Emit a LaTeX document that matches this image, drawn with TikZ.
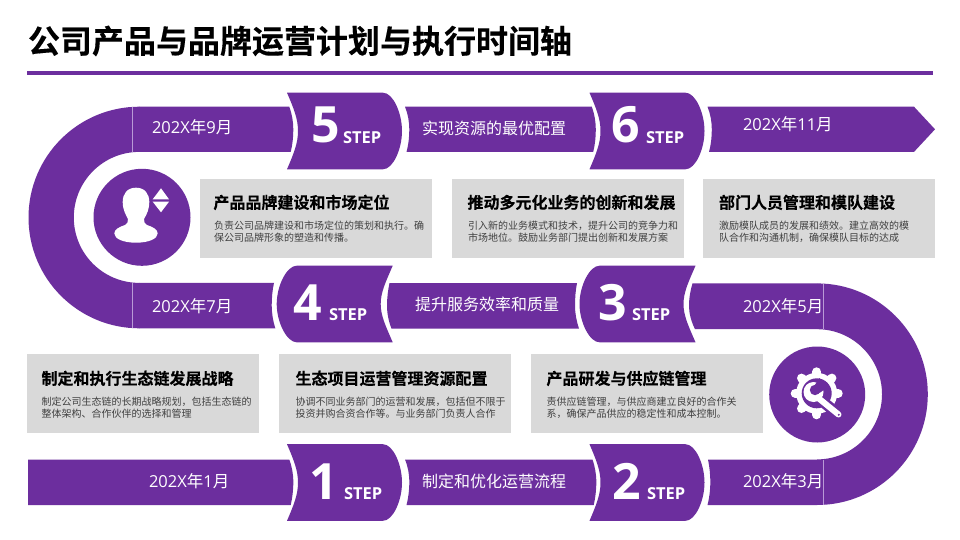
\documentclass[tikz,border=0pt]{standalone}
\usepackage{fontspec}
\setmainfont{Open Sans}
\newfontfamily\cjk{Noto Sans CJK SC}[BoldFont={Noto Sans CJK SC Bold},BoldFeatures={FakeBold=0.25}]
\newfontfamily\lat{Open Sans}
\definecolor{brand}{HTML}{6C2E9E}
\definecolor{panel}{HTML}{D9D9D9}
\definecolor{seam}{HTML}{B99AD6}
\definecolor{bodytext}{HTML}{404040}
\newcommand{\stepF}{(0,-38.3) -- (96,-38.3) .. controls (106,-38.3) and (115,-18) .. (115,0)
  .. controls (115,18) and (106,38.3) .. (96,38.3) -- (0,38.3)
  .. controls (7,22) and (11,12) .. (11,0) .. controls (11,-12) and (7,-22) .. (0,-38.3) -- cycle}
\newcommand{\stepB}{(0,-38.3) -- (-96,-38.3) .. controls (-106,-38.3) and (-116,-18) .. (-116,0)
  .. controls (-116,18) and (-106,38.3) .. (-96,38.3) -- (0,38.3)
  .. controls (-7,22) and (-12,12) .. (-12,0) .. controls (-12,-12) and (-7,-22) .. (0,-38.3) -- cycle}
\tikzset{
  x=1pt,y=-1pt,
  band/.style={fill=brand,draw=none},
  seamline/.style={draw=seam,line width=0.7pt},
  txt/.style={anchor=base west,inner sep=0pt,outer sep=0pt},
  bandlabel/.style={txt,text=white,font=\fontsize{16.5}{16.5}\selectfont\lat},
  bandcjk/.style={txt,text=white,font=\fontsize{16}{16}\selectfont\cjk},
  bignum/.style={txt,text=white,font=\fontsize{50}{50}\selectfont\lat\bfseries},
  steptag/.style={txt,text=white,font=\fontsize{16.5}{16.5}\selectfont\lat\bfseries},
  head/.style={txt,text=black,font=\fontsize{16}{16}\selectfont\cjk\bfseries},
  bodyline/.style={txt,text=bodytext,font=\fontsize{10}{10}\selectfont\cjk},
  panelbox/.style={fill=panel,draw=none},
}
\begin{document}
\begin{tikzpicture}
\useasboundingbox (0,0) rectangle (960,540);
\fill[white] (0,0) rectangle (960,540);

% title
\node[txt,text=black,font=\fontsize{32}{32}\selectfont\cjk\bfseries] (title) at (28,53) {公司产品与品牌运营计划与执行时间轴};
\fill[brand] (27,71) rectangle (933,75);

% left ring
\fill[band] (139.3,106.7) .. controls (78.1,106.7) and (28.5,156.3) .. (28.5,217.5)
  .. controls (28.5,278.7) and (78.1,328.3) .. (139.3,328.3)
  -- (139.3,282.9) .. controls (103.1,282.9) and (73.8,253.7) .. (73.8,217.5)
  .. controls (73.8,181.3) and (103.1,151.9) .. (139.3,151.9) -- cycle;
% right ring
\fill[band] (817,283.4) .. controls (878.2,283.4) and (927.8,333) .. (927.8,394.2)
  .. controls (927.8,455.4) and (878.2,505) .. (817,505)
  -- (817,459.4) .. controls (852.9,459.4) and (882,430.1) .. (882,394.2)
  .. controls (882,358.3) and (852.9,329.2) .. (817,329.2) -- cycle;

% row 1 bands
\fill[band] (139,106.7) -- (289.3,106.7) .. controls (292,114) and (293.3,122) .. (293.3,129.5)
  .. controls (293.3,137) and (292.5,145) .. (290.7,151.9) -- (139,151.9) -- cycle;
\fill[band] (405,106.7) -- (591.8,106.7) .. controls (594.5,114) and (595.8,122) .. (595.8,129.5)
  .. controls (595.8,137) and (595,145) .. (593.2,151.9) -- (406.5,151.9)
  .. controls (408.5,145) and (409.3,137) .. (409.3,129.5) .. controls (409.3,122) and (408,114) .. (405,106.7) -- cycle;
\fill[band] (707.5,106.7) -- (914,106.7) -- (935,129.3) -- (914,151.9) -- (709,151.9)
  .. controls (711,145) and (711.8,137) .. (711.8,129.5) .. controls (711.8,122) and (710.5,114) .. (707.5,106.7) -- cycle;
% row 2 bands
\fill[band] (139,282.9) -- (274,282.9) .. controls (272.4,290) and (271.7,298) .. (271.7,305.5)
  .. controls (271.7,313) and (273,321) .. (275.3,328.3) -- (139,328.3) -- cycle;
\fill[band] (389.5,283) -- (577,283) .. controls (575.6,290) and (575,298) .. (575,305.7)
  .. controls (575,313.5) and (576.5,321) .. (579,328.6) -- (391.5,328.6)
  .. controls (388.5,321) and (387,313) .. (387,305.7) .. controls (387,298) and (388,290) .. (389.5,283) -- cycle;
\fill[band] (692.5,283.4) -- (817,283.4) -- (817,329.2) -- (695,329.2)
  .. controls (691,321) and (689,313) .. (689,306) .. controls (689,298) and (690.5,290) .. (692.5,283.4) -- cycle;
% row 3 bands
\fill[band] (28,459.5) -- (289.3,459.5) .. controls (292,467) and (293.3,474) .. (293.3,482)
  .. controls (293.3,490) and (292.5,497) .. (290.7,505) -- (28,505) -- cycle;
\fill[band] (405,459.5) -- (592.5,459.5) .. controls (595,467) and (596.3,474) .. (596.3,482)
  .. controls (596.3,490) and (595.5,497) .. (593.7,505) -- (406.5,505)
  .. controls (408.5,497) and (409.3,490) .. (409.3,482) .. controls (409.3,474) and (408,467) .. (405,459.5) -- cycle;
\fill[band] (708,459.5) -- (817,459.5) -- (817,505) -- (707.5,505)
  .. controls (709.5,497) and (710.3,490) .. (710.3,482) .. controls (710.3,474) and (709.5,467) .. (708,459.5) -- cycle;

% seams
\draw[seamline] (132.5,106.7) -- (132.5,151.9);
\draw[seamline] (132.5,282.9) -- (132.5,328.3);
\draw[seamline] (823.3,283.6) -- (823.3,329);
\draw[seamline] (823.3,459.6) -- (823.3,504.8);

% step plates
\fill[band,shift={(287,131)}] \stepF;
\fill[band,shift={(589.5,131)}] \stepF;
\fill[band,shift={(392.7,304)}] \stepB;
\fill[band,shift={(695.5,304)}] \stepB;
\fill[band,shift={(287,482.5)}] \stepF;
\fill[band,shift={(589.5,482.5)}] \stepF;

% band labels
\node[bandlabel] (d9) at (152,133.5) {202X{\cjk 年}9{\cjk 月}};
\node[bandlabel] (d11) at (743,131) {202X{\cjk 年}11{\cjk 月}};
\node[bandlabel] (d7) at (152,312.5) {202X{\cjk 年}7{\cjk 月}};
\node[bandlabel] (d5) at (743,312.5) {202X{\cjk 年}5{\cjk 月}};
\node[bandlabel] (d1) at (149,487) {202X{\cjk 年}1{\cjk 月}};
\node[bandlabel] (d3) at (743,487) {202X{\cjk 年}3{\cjk 月}};
\node[bandcjk] (t6) at (422,134.5) {实现资源的最优配置};
\node[bandcjk] (t3) at (415,310.5) {提升服务效率和质量};
\node[bandcjk] (t1) at (422,487.5) {制定和优化运营流程};

% step numbers
\node[bignum] (n5) at (311,143) {5};
\node[steptag] (s5) at (343,143.3) {STEP};
\node[bignum] (n6) at (611,143) {6};
\node[steptag] (s6) at (646,143.3) {STEP};
\node[bignum] (n4) at (293.5,320) {4};
\node[steptag] (s4) at (329,320) {STEP};
\node[bignum] (n3) at (598,320) {3};
\node[steptag] (s3) at (632,320) {STEP};
\node[bignum] (n1) at (309,499.3) {1};
\node[steptag] (s1) at (344,499.3) {STEP};
\node[bignum] (n2) at (612,499.3) {2};
\node[steptag] (s2) at (647,499.3) {STEP};

% panels
\fill[panelbox] (200,179.3) rectangle (432,257.7);
\fill[panelbox] (452,179.3) rectangle (684,257.7);
\fill[panelbox] (703,179.3) rectangle (935,257.7);
\fill[panelbox] (27,354.3) rectangle (259,432.7);
\fill[panelbox] (279,354.3) rectangle (511,432.7);
\fill[panelbox] (530.5,354.3) rectangle (762.5,432.7);

\node[head] (h1) at (213.5,208.5) {产品品牌建设和市场定位};
\node[bodyline] (a1) at (214,229.5) {负责公司品牌建设和市场定位的策划和执行。确};
\node[bodyline] (b1) at (214,241.5) {保公司品牌形象的塑造和传播。};
\node[head] (h2) at (467.5,208.5) {推动多元化业务的创新和发展};
\node[bodyline] (a2) at (468,229.5) {引入新的业务模式和技术，提升公司的竞争力和};
\node[bodyline] (b2) at (468,241.5) {市场地位。鼓励业务部门提出创新和发展方案};
\node[head] (h3) at (719,208.5) {部门人员管理和模队建设};
\node[bodyline] (a3) at (719,229.5) {激励模队成员的发展和绩效。建立高效的模};
\node[bodyline] (b3) at (719,241.5) {队合作和沟通机制，确保模队目标的达成};
\node[head] (h4) at (41.5,384.5) {制定和执行生态链发展战略};
\node[bodyline] (a4) at (41.5,405) {制定公司生态链的长期战略规划，包括生态链的};
\node[bodyline] (b4) at (41.5,417) {整体架构、合作伙伴的选择和管理};
\node[head] (h5) at (295.5,384.5) {生态项目运营管理资源配置};
\node[bodyline] (a5) at (295.5,405) {协调不同业务部门的运营和发展，包括但不限于};
\node[bodyline] (b5) at (295.5,417) {投资并购合资合作等。与业务部门负责人合作};
\node[head] (h6) at (546.5,384.5) {产品研发与供应链管理};
\node[bodyline] (a6) at (546.5,405) {责供应链管理，与供应商建立良好的合作关};
\node[bodyline] (b6) at (546.5,417) {系，确保产品供应的稳定性和成本控制。};

% person icon
\fill[brand] (142,217.3) circle[radius=48.5];
\fill[white] (136,187.7) .. controls (127,187.7) and (122.7,194) .. (122.7,202)
  .. controls (122.7,210) and (126,215) .. (128,219) .. controls (128.5,222) and (127,224) .. (125,225)
  .. controls (119,227) and (114.3,229.5) .. (114.3,233.5) .. controls (114.3,239) and (124,242.7) .. (136,242.7)
  .. controls (148,242.7) and (157.7,239) .. (157.7,233.5) .. controls (157.7,229.5) and (153,227) .. (147,225)
  .. controls (145,224) and (143.5,222) .. (144,219) .. controls (147,214) and (149.3,209) .. (149.3,202)
  .. controls (149.3,194) and (145,187.7) .. (136,187.7) -- cycle;
\fill[white] (161,188.3) -- (169,199.3) -- (152.7,199.3) -- cycle;
\fill[white] (152.7,201.7) -- (169,201.7) -- (161,212.3) -- cycle;

% gear icon
\fill[brand] (817.2,394.5) circle[radius=48];
\fill[white] (816.7,393.3) circle[radius=20.5];
\foreach \a in {0,45,...,315}
  \draw[white,line width=9pt,line cap=round] (816.7,393.3) -- +(\a:21.5);
\fill[brand] (816.7,393.3) circle[radius=15];
\draw[brand,line width=11pt,line cap=round] (822,401) -- (838.5,414.5);
\fill[white] (813.5,392) circle[radius=10];
\draw[white,line width=6pt,line cap=round] (817,397) -- (838.5,414.5);
\fill[brand] (815,390) circle[radius=5.2];
\fill[brand] (813.5,387) -- (819.5,378) -- (828,387) -- (819.5,393) -- cycle;
\fill[brand] (838.8,414.8) circle[radius=1.1];
\end{tikzpicture}
\end{document}
